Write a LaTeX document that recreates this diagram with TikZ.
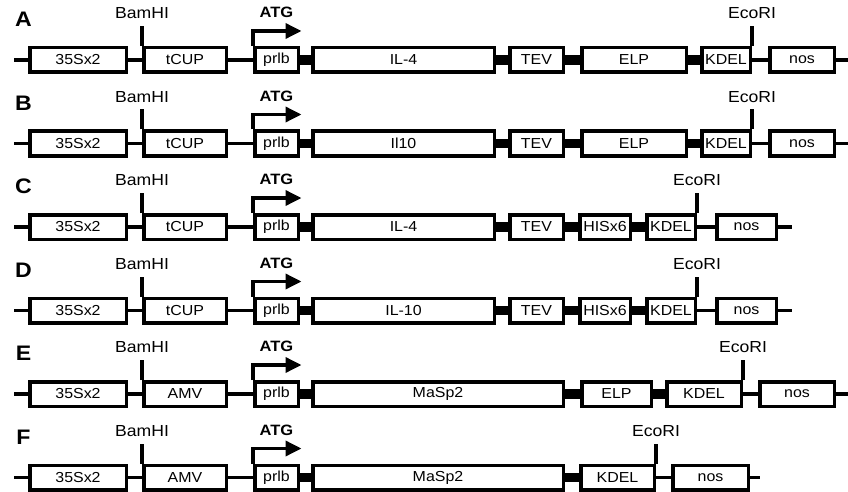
\documentclass[tikz,border=0pt]{standalone}
\usepackage{fontspec}
\setmainfont{Liberation Sans}[FakeStretch=1.1]
\usepackage{tikz}
\usetikzlibrary{arrows.meta,positioning}

\begin{document}
\begin{tikzpicture}[x=1pt, y=-1pt,
  part/.style={draw, line width=3.5pt, minimum height=24.5pt, inner sep=0pt, font=\fontsize{14.5}{16}\selectfont},
  link/.style={line width=3.5pt},
  fuse/.style={line width=9.5pt},
  site/.style={inner sep=0pt, font=\fontsize{16}{18}\selectfont},
  atg/.style={inner sep=0pt, font=\bfseries\fontsize{15}{17}\selectfont},
  tag/.style={inner sep=0pt, font=\bfseries\fontsize{21}{23}\selectfont},
  start/.style={line width=3.5pt, -{Triangle[length=16pt,width=15pt]}}
]
  \useasboundingbox (0,0) rectangle (848,492);

  % A
  \node[tag] (A) at (23.5,19.5) {A};
  \coordinate (As) at (14,60);
  \node[part, minimum width=96.5pt]  (A1) at (78,60)    {35Sx2};
  \node[part, minimum width=82.5pt]  (A2) at (185,60)   {tCUP};
  \node[part, minimum width=43.5pt]  (A3) at (276.5,60) {prlb};
  \node[part, minimum width=181.5pt] (A4) at (403.5,60) {IL-4};
  \node[part, minimum width=53.5pt]  (A5) at (536.5,60) {TEV};
  \node[part, minimum width=104.5pt] (A6) at (634,60)   {ELP};
  \node[part, minimum width=48.5pt]  (AK) at (726,60)   {KDEL};
  \node[part, minimum width=64.5pt]  (AN) at (802,60)   {nos};
  \coordinate (Aend) at (848,60);
  \draw[link] (As) -- (A1) (A1) -- (A2) (A2) -- (A3) (AK) -- (AN) (AN) -- (Aend);
  \draw[fuse] (A3) -- (A4) (A4) -- (A5) (A5) -- (A6) (A6) -- (AK);
  \coordinate (Abam) at ([yshift=20pt]A2.north west);
  \draw[link] (A2.north west) -- (Abam);
  \node[site, above=7pt of Abam] (AbamL) {BamHI};
  \coordinate (Aeco) at ([yshift=20pt]AK.north east);
  \draw[link] (AK.north east) -- (Aeco);
  \node[site, above=7pt of Aeco] (AecoL) {EcoRI};
  \coordinate (Atss) at ([yshift=15pt]A3.north west);
  \coordinate (Atip) at ([xshift=1.5pt]A3.east |- Atss);
  \draw[start] (A3.north west) -- (Atss) -- (Atip);
  \node[atg, above=28pt of A3] (Aatg) {ATG};

  % B
  \node[tag] (B) at (23.5,103) {B};
  \coordinate (Bs) at (14,143.5);
  \node[part, minimum width=96.5pt]  (B1) at (78,143.5)    {35Sx2};
  \node[part, minimum width=82.5pt]  (B2) at (185,143.5)   {tCUP};
  \node[part, minimum width=43.5pt]  (B3) at (276.5,143.5) {prlb};
  \node[part, minimum width=181.5pt] (B4) at (403.5,143.5) {Il10};
  \node[part, minimum width=53.5pt]  (B5) at (536.5,143.5) {TEV};
  \node[part, minimum width=104.5pt] (B6) at (634,143.5)   {ELP};
  \node[part, minimum width=48.5pt]  (BK) at (726,143.5)   {KDEL};
  \node[part, minimum width=64.5pt]  (BN) at (802,143.5)   {nos};
  \coordinate (Bend) at (848,143.5);
  \draw[link] (Bs) -- (B1) (B1) -- (B2) (B2) -- (B3) (BK) -- (BN) (BN) -- (Bend);
  \draw[fuse] (B3) -- (B4) (B4) -- (B5) (B5) -- (B6) (B6) -- (BK);
  \coordinate (Bbam) at ([yshift=20pt]B2.north west);
  \draw[link] (B2.north west) -- (Bbam);
  \node[site, above=7pt of Bbam] (BbamL) {BamHI};
  \coordinate (Beco) at ([yshift=20pt]BK.north east);
  \draw[link] (BK.north east) -- (Beco);
  \node[site, above=7pt of Beco] (BecoL) {EcoRI};
  \coordinate (Btss) at ([yshift=15pt]B3.north west);
  \coordinate (Btip) at ([xshift=1.5pt]B3.east |- Btss);
  \draw[start] (B3.north west) -- (Btss) -- (Btip);
  \node[atg, above=28pt of B3] (Batg) {ATG};

  % C
  \node[tag] (C) at (23.5,186.5) {C};
  \coordinate (Cs) at (14,227);
  \node[part, minimum width=96.5pt]  (C1) at (78,227)    {35Sx2};
  \node[part, minimum width=82.5pt]  (C2) at (185,227)   {tCUP};
  \node[part, minimum width=43.5pt]  (C3) at (276.5,227) {prlb};
  \node[part, minimum width=181.5pt] (C4) at (403.5,227) {IL-4};
  \node[part, minimum width=53.5pt]  (C5) at (536.5,227) {TEV};
  \node[part, minimum width=50.5pt]  (C6) at (605,227)   {HISx6};
  \node[part, minimum width=48.5pt]  (CK) at (671,227)   {KDEL};
  \node[part, minimum width=59.5pt]  (CN) at (746.5,227) {nos};
  \coordinate (Cend) at (792,227);
  \draw[link] (Cs) -- (C1) (C1) -- (C2) (C2) -- (C3) (CK) -- (CN) (CN) -- (Cend);
  \draw[fuse] (C3) -- (C4) (C4) -- (C5) (C5) -- (C6) (C6) -- (CK);
  \coordinate (Cbam) at ([yshift=20pt]C2.north west);
  \draw[link] (C2.north west) -- (Cbam);
  \node[site, above=7pt of Cbam] (CbamL) {BamHI};
  \coordinate (Ceco) at ([yshift=20pt]CK.north east);
  \draw[link] (CK.north east) -- (Ceco);
  \node[site, above=7pt of Ceco] (CecoL) {EcoRI};
  \coordinate (Ctss) at ([yshift=15pt]C3.north west);
  \coordinate (Ctip) at ([xshift=1.5pt]C3.east |- Ctss);
  \draw[start] (C3.north west) -- (Ctss) -- (Ctip);
  \node[atg, above=28pt of C3] (Catg) {ATG};

  % D
  \node[tag] (D) at (23.5,270) {D};
  \coordinate (Ds) at (14,310.5);
  \node[part, minimum width=96.5pt]  (D1) at (78,310.5)    {35Sx2};
  \node[part, minimum width=82.5pt]  (D2) at (185,310.5)   {tCUP};
  \node[part, minimum width=43.5pt]  (D3) at (276.5,310.5) {prlb};
  \node[part, minimum width=181.5pt] (D4) at (403.5,310.5) {IL-10};
  \node[part, minimum width=53.5pt]  (D5) at (536.5,310.5) {TEV};
  \node[part, minimum width=50.5pt]  (D6) at (605,310.5)   {HISx6};
  \node[part, minimum width=48.5pt]  (DK) at (671,310.5)   {KDEL};
  \node[part, minimum width=59.5pt]  (DN) at (746.5,310.5) {nos};
  \coordinate (Dend) at (792,310.5);
  \draw[link] (Ds) -- (D1) (D1) -- (D2) (D2) -- (D3) (DK) -- (DN) (DN) -- (Dend);
  \draw[fuse] (D3) -- (D4) (D4) -- (D5) (D5) -- (D6) (D6) -- (DK);
  \coordinate (Dbam) at ([yshift=20pt]D2.north west);
  \draw[link] (D2.north west) -- (Dbam);
  \node[site, above=7pt of Dbam] (DbamL) {BamHI};
  \coordinate (Deco) at ([yshift=20pt]DK.north east);
  \draw[link] (DK.north east) -- (Deco);
  \node[site, above=7pt of Deco] (DecoL) {EcoRI};
  \coordinate (Dtss) at ([yshift=15pt]D3.north west);
  \coordinate (Dtip) at ([xshift=1.5pt]D3.east |- Dtss);
  \draw[start] (D3.north west) -- (Dtss) -- (Dtip);
  \node[atg, above=28pt of D3] (Datg) {ATG};

  % E
  \node[tag] (E) at (23.5,353.5) {E};
  \coordinate (Es) at (14,394);
  \node[part, minimum width=96.5pt]  (E1) at (78,394)    {35Sx2};
  \node[part, minimum width=82.5pt]  (E2) at (185,394)   {AMV};
  \node[part, minimum width=43.5pt]  (E3) at (276.5,394) {prlb};
  \node[part, minimum width=250.5pt] (E4) at (438,394)   {MaSp2};
  \node[part, minimum width=69.5pt]  (E5) at (616.5,394) {ELP};
  \node[part, minimum width=74.5pt]  (EK) at (704,394)   {KDEL};
  \node[part, minimum width=74.5pt]  (EN) at (797,394)   {nos};
  \coordinate (Eend) at (848,394);
  \draw[link] (Es) -- (E1) (E1) -- (E2) (E2) -- (E3) (EK) -- (EN) (EN) -- (Eend);
  \draw[fuse] (E3) -- (E4) (E4) -- (E5) (E5) -- (EK);
  \coordinate (Ebam) at ([yshift=20pt]E2.north west);
  \draw[link] (E2.north west) -- (Ebam);
  \node[site, above=7pt of Ebam] (EbamL) {BamHI};
  \coordinate (Eeco) at ([yshift=20pt]EK.north east);
  \draw[link] (EK.north east) -- (Eeco);
  \node[site, above=7pt of Eeco] (EecoL) {EcoRI};
  \coordinate (Etss) at ([yshift=15pt]E3.north west);
  \coordinate (Etip) at ([xshift=1.5pt]E3.east |- Etss);
  \draw[start] (E3.north west) -- (Etss) -- (Etip);
  \node[atg, above=28pt of E3] (Eatg) {ATG};

  % F
  \node[tag] (F) at (23.5,437) {F};
  \coordinate (Fs) at (14,477.5);
  \node[part, minimum width=96.5pt]  (F1) at (78,477.5)    {35Sx2};
  \node[part, minimum width=82.5pt]  (F2) at (185,477.5)   {AMV};
  \node[part, minimum width=43.5pt]  (F3) at (276.5,477.5) {prlb};
  \node[part, minimum width=250.5pt] (F4) at (438,477.5)   {MaSp2};
  \node[part, minimum width=73.5pt]  (FK) at (617.5,477.5) {KDEL};
  \node[part, minimum width=75.5pt]  (FN) at (710.5,477.5) {nos};
  \coordinate (Fend) at (760,477.5);
  \draw[link] (Fs) -- (F1) (F1) -- (F2) (F2) -- (F3) (FK) -- (FN) (FN) -- (Fend);
  \draw[fuse] (F3) -- (F4) (F4) -- (FK);
  \coordinate (Fbam) at ([yshift=20pt]F2.north west);
  \draw[link] (F2.north west) -- (Fbam);
  \node[site, above=7pt of Fbam] (FbamL) {BamHI};
  \coordinate (Feco) at ([yshift=20pt]FK.north east);
  \draw[link] (FK.north east) -- (Feco);
  \node[site, above=7pt of Feco] (FecoL) {EcoRI};
  \coordinate (Ftss) at ([yshift=15pt]F3.north west);
  \coordinate (Ftip) at ([xshift=1.5pt]F3.east |- Ftss);
  \draw[start] (F3.north west) -- (Ftss) -- (Ftip);
  \node[atg, above=28pt of F3] (Fatg) {ATG};
\end{tikzpicture}
\end{document}
